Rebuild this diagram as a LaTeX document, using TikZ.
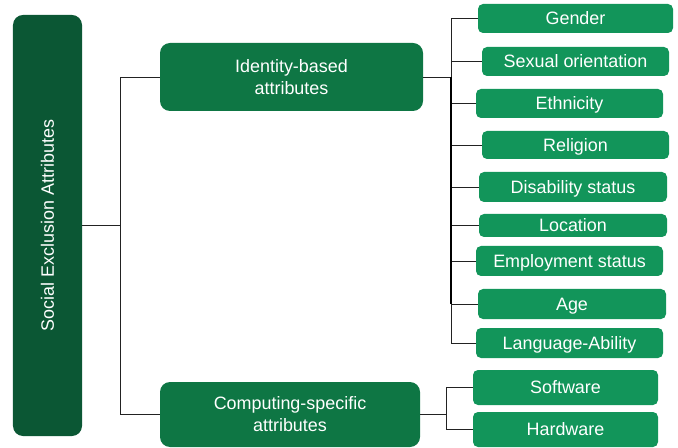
\documentclass[tikz,border=0pt]{standalone}
\usepackage{fontspec}
\setmainfont{Liberation Sans}
\definecolor{rootgreen}{HTML}{0B5734}
\definecolor{midgreen}{HTML}{0E7644}
\definecolor{leafgreen}{HTML}{12955A}
\definecolor{linegray}{HTML}{222222}
\begin{document}
\begin{tikzpicture}[x=1bp,y=-1bp,
  box/.style={inner sep=0pt, text=white, font=\fontsize{18}{22}\selectfont, align=center},
  rootbox/.style={box, fill=rootgreen, rounded corners=10bp},
  midbox/.style={box, fill=midgreen, rounded corners=10bp},
  leaf/.style={box, fill=leafgreen, rounded corners=5bp, text height=12.9bp, text depth=0pt},
  conn/.style={draw=linegray, line width=0.9bp}]
\useasboundingbox (0,0) rectangle (678,448);
% root
\node[rootbox, minimum width=69bp, minimum height=421bp] (root) at (47.5,225.5) {};
\node[box, rotate=90] (roottxt) at (root.center) {Social Exclusion Attributes};
% middle
\node[midbox, minimum width=263bp, minimum height=68bp] (idn) at (291.5,77) {Identity-based\\attributes};
\node[midbox, minimum width=260bp, minimum height=65bp] (comp) at (290,414.5) {Computing-specific\\attributes};
% leaves
\node[leaf, minimum width=195bp, minimum height=29bp] (gender) at (575.5,18.5) {Gender};
\node[leaf, minimum width=187bp, minimum height=29bp] (sexual) at (575.5,61.5) {Sexual orientation};
\node[leaf, minimum width=187bp, minimum height=29bp] (ethn) at (569.5,103.5) {Ethnicity};
\node[leaf, minimum width=187bp, minimum height=28bp] (relig) at (575.5,145) {Religion};
\node[leaf, minimum width=188bp, minimum height=30bp] (disab) at (573,187) {Disability status};
\node[leaf, minimum width=188bp, minimum height=23bp] (loc) at (573,225.5) {Location};
\node[leaf, minimum width=187bp, minimum height=30bp] (empl) at (569.5,261) {Employment status};
\node[leaf, minimum width=188bp, minimum height=30bp] (age) at (572,304) {Age};
\node[leaf, minimum width=187bp, minimum height=30bp] (lang) at (569.5,343) {Language-Ability};
\node[leaf, minimum width=185bp, minimum height=35bp] (soft) at (565.5,387.5) {Software};
\node[leaf, minimum width=185bp, minimum height=35bp] (hard) at (565.5,429.5) {Hardware};
% bus coordinates
\coordinate (rbus) at (120,0);
\coordinate (ibus) at (451,0);
\coordinate (cbus) at (446,0);
% root connectors
\draw[conn] (root.east) -- (rbus |- root.east) |- (idn.west);
\draw[conn] (rbus |- root.east) |- (comp.west);
% identity connectors
\foreach \n in {gender,sexual,ethn,relig,disab,loc,empl,age,lang}
  \draw[conn] (idn.east) -- (ibus |- idn.east) |- (\n.west);
\draw[draw=black, line width=2.4bp] (ibus |- idn.east) -- (ibus |- age.west);
% computing connectors
\draw[conn] (comp.east) -- (cbus |- comp.east) |- (soft.west);
\draw[conn] (cbus |- comp.east) |- (hard.west);
\end{tikzpicture}
\end{document}
